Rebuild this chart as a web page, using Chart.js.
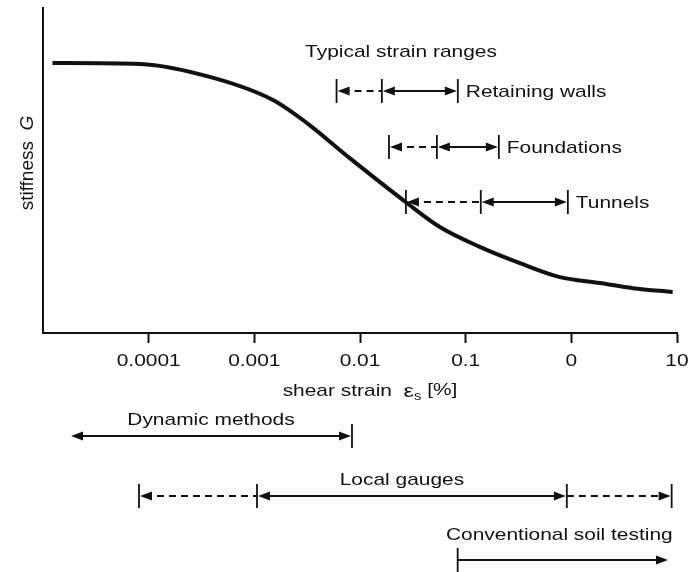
<!DOCTYPE html>
<html>
<head>
<meta charset="utf-8">
<script src="https://cdn.jsdelivr.net/npm/chart.js@4.4.1/dist/chart.umd.min.js"></script>
<style>
  body { margin: 0; background: #fff; }
  canvas { display: block; }
</style>
</head>
<body>
<canvas id="stiffnessChart" width="689" height="572"></canvas>
<script>
// Stiffness degradation curve, shear strain in %
const strain    = [1.23e-5, 8.3e-5, 4.1e-4, 1.5e-3, 3.15e-3, 8.0e-3, 0.0278, 0.057, 0.136, 0.326, 0.778, 1.86, 3.82, 9.1];
const stiffness = [83.1, 82.8, 78.5, 71.7, 64.6, 53.8, 40.0, 32.6, 26.5, 21.5, 17.2, 15.4, 13.8, 12.6];

// x axis ticks (the scan prints "0" where 1 would be)
const tickValues = [1e-4, 1e-3, 1e-2, 1e-1, 1, 10];
const tickLabels = ['0.0001', '0.001', '0.01', '0.1', '0', '10'];

// Typical strain ranges: dashed part start -> mid, solid part mid -> end
const rangeNames = ['Retaining walls', 'Foundations', 'Tunnels'];
const rangeStart = [0.0060, 0.0188, 0.0272];
const rangeMid   = [0.0161, 0.0534, 0.139];
const rangeEnd   = [0.0843, 0.206, 0.927];

// Test methods below the axis
const dynamicRange      = [1.8e-5, 0.0084];
const localSolid        = [0.00106, 0.906];
const localDashedLeft   = [8.1e-5, 0.00106];
const localDashedRight  = [0.906, 8.9];
const conventionalRange = [0.084, 8.4];

const INK = '#111';
const FONT = '"Liberation Sans", Arial, sans-serif';
const SX = 1.23; // the scanned lettering is a bit wide

function text(ctx, str, x, y, align, size, style) {
  ctx.save();
  ctx.font = (style || '') + ' ' + size + 'px ' + FONT;
  ctx.translate(x, y);
  ctx.scale(SX, 1);
  ctx.textAlign = align;
  ctx.textBaseline = 'middle';
  ctx.fillText(str, 0, 0);
  ctx.restore();
}

function head(ctx, x, y, dir) {
  ctx.beginPath();
  ctx.moveTo(x, y);
  ctx.lineTo(x - dir * 12, y - 4.5);
  ctx.lineTo(x - dir * 12, y + 4.5);
  ctx.closePath();
  ctx.fill();
}

function seg(ctx, x1, x2, y, dashed, headL, headR) {
  ctx.save();
  ctx.lineWidth = 1.8;
  if (dashed) ctx.setLineDash([7, 5]);
  ctx.beginPath();
  ctx.moveTo(x1 + (headL ? 6 : 0), y);
  ctx.lineTo(x2 - (headR ? 6 : 0), y);
  ctx.stroke();
  ctx.restore();
  if (headL) head(ctx, x1 + 1, y, -1);
  if (headR) head(ctx, x2 - 1, y, 1);
}

function bar(ctx, x, y) {
  ctx.save();
  ctx.lineWidth = 1.8;
  ctx.beginPath();
  ctx.moveTo(x, y - 12);
  ctx.lineTo(x, y + 12);
  ctx.stroke();
  ctx.restore();
}

const annotations = {
  id: 'annotations',
  afterDraw(chart) {
    const { ctx, scales: { x } } = chart;
    const px = v => x.getPixelForValue(v);
    ctx.save();
    ctx.fillStyle = INK;
    ctx.strokeStyle = INK;

    // tick labels
    tickValues.forEach((v, i) => text(ctx, tickLabels[i], px(v), 361, 'center', 17));

    // x title with subscript
    const a = 'shear strain  ', c = ' [%]';
    ctx.font = '19px ' + FONT;
    const wEps = ctx.measureText('\u03b5').width;
    ctx.font = '12px ' + FONT;
    const wSub = ctx.measureText('s').width;
    ctx.font = '17px ' + FONT;
    const wA = ctx.measureText(a).width, wC = ctx.measureText(c).width;
    const total = (wA + wEps + wSub + wC) * SX;
    let cx = 370 - total / 2;
    text(ctx, a, cx, 391, 'left', 17); cx += wA * SX;
    text(ctx, '\u03b5', cx, 392, 'left', 19); cx += wEps * SX;
    text(ctx, 's', cx, 397, 'left', 12); cx += wSub * SX;
    text(ctx, c, cx, 390, 'left', 17);

    // y title, rotated
    ctx.save();
    ctx.translate(28, 163);
    ctx.rotate(-Math.PI / 2);
    ctx.font = '19px ' + FONT;
    const wS = ctx.measureText('stiffness  ').width;
    ctx.font = 'italic 19px ' + FONT;
    const wG = ctx.measureText('G').width;
    ctx.textBaseline = 'middle';
    ctx.textAlign = 'left';
    ctx.font = '19px ' + FONT;
    ctx.fillText('stiffness  ', -(wS + wG) / 2, 0);
    ctx.font = 'italic 19px ' + FONT;
    ctx.fillText('G', -(wS + wG) / 2 + wS, 0);
    ctx.restore();

    // typical strain ranges
    text(ctx, 'Typical strain ranges', 401, 52, 'center', 17);
    const rows = [91, 147, 202];
    rangeNames.forEach((name, i) => {
      const y = rows[i];
      const s = px(rangeStart[i]), m = px(rangeMid[i]), e = px(rangeEnd[i]);
      bar(ctx, s, y); bar(ctx, m, y); bar(ctx, e, y);
      seg(ctx, s, m, y, true, true, false);
      seg(ctx, m, e, y, false, true, true);
      text(ctx, name, e + 8, y + 1, 'left', 17);
    });

    // methods
    let y = 436;
    seg(ctx, px(dynamicRange[0]), px(dynamicRange[1]), y, false, true, true);
    bar(ctx, px(dynamicRange[1]), y);
    text(ctx, 'Dynamic methods', (px(dynamicRange[0]) + px(dynamicRange[1])) / 2, y - 16, 'center', 17);

    y = 496;
    bar(ctx, px(localDashedLeft[0]), y);
    bar(ctx, px(localSolid[0]), y);
    bar(ctx, px(localSolid[1]), y);
    bar(ctx, px(localDashedRight[1]), y);
    seg(ctx, px(localDashedLeft[0]), px(localDashedLeft[1]), y, true, true, false);
    seg(ctx, px(localSolid[0]), px(localSolid[1]), y, false, true, true);
    seg(ctx, px(localDashedRight[0]), px(localDashedRight[1]), y, true, false, true);
    text(ctx, 'Local gauges', (px(localSolid[0]) + px(localSolid[1])) / 2 - 10, y - 16, 'center', 17);

    y = 560;
    bar(ctx, px(conventionalRange[0]), y);
    seg(ctx, px(conventionalRange[0]), px(conventionalRange[1]), y, false, false, true);
    text(ctx, 'Conventional soil testing', (px(conventionalRange[0]) + px(conventionalRange[1])) / 2 - 4, y - 25, 'center', 17);

    ctx.restore();
  }
};

const ctx = document.getElementById('stiffnessChart').getContext('2d');

const stiffnessChart = new Chart(ctx, {
  type: 'line',
  data: {
    datasets: [{
      data: strain.map((v, i) => ({ x: v, y: stiffness[i] })),
      borderColor: INK,
      borderWidth: 4,
      pointRadius: 0,
      cubicInterpolationMode: 'monotone',
      fill: false
    }]
  },
  options: {
    responsive: false,
    animation: false,
    layout: { padding: { top: 8, right: 12, left: 0, bottom: 0 } },
    plugins: { legend: { display: false }, tooltip: { enabled: false } },
    scales: {
      x: {
        type: 'logarithmic',
        min: 1e-5,
        max: 10,
        afterBuildTicks: s => { s.ticks = tickValues.map(v => ({ value: v })); },
        afterFit: s => { s.height = 572 - 333; },
        ticks: { display: false },
        grid: { display: true, drawOnChartArea: false, drawTicks: true, tickLength: 10, tickColor: INK, tickWidth: 2, color: INK },
        border: { display: true, color: INK, width: 2 }
      },
      y: {
        min: 0,
        max: 100,
        afterFit: s => { s.width = 43; },
        ticks: { display: false },
        grid: { display: false },
        border: { display: true, color: INK, width: 2 }
      }
    }
  },
  plugins: [annotations]
});
</script>
</body>
</html>
